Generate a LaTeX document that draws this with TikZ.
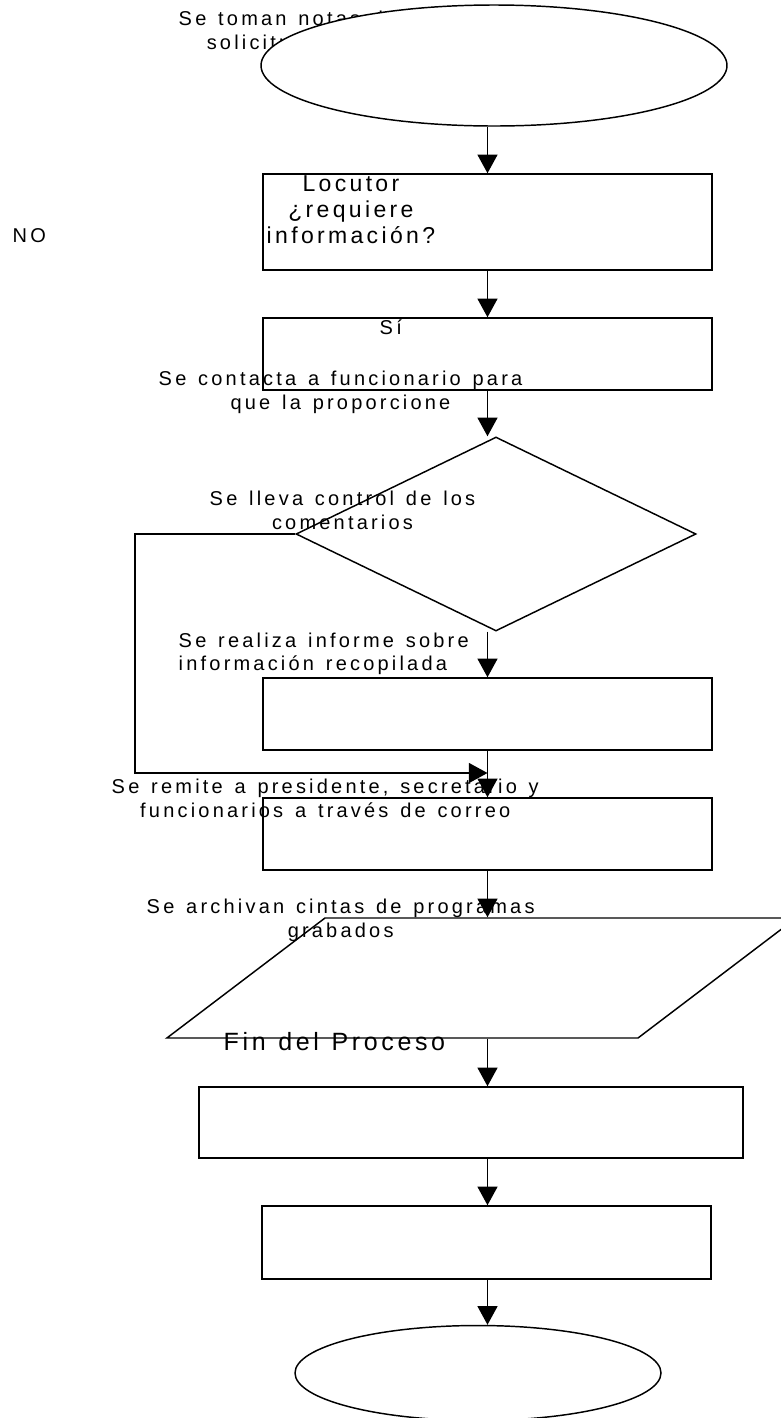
\documentclass[tikz,border=0pt]{standalone}
\usepackage{fontspec}
\setmainfont{Liberation Sans}[LetterSpace=16,WordSpace=1.35]
\newfontfamily\bigfont{Liberation Sans}[LetterSpace=14.5,WordSpace=1.2]
\usetikzlibrary{arrows.meta,shapes.geometric}
\tikzset{%
	startstop/.style = {draw, ellipse, inner sep=0pt},
	process/.style   = {draw, rectangle, inner sep=0pt, minimum width=336.75pt},
	decision/.style  = {draw, diamond, inner sep=0pt, minimum width=300pt, minimum height=145.5pt},
	inout/.style     = {draw, trapezium, trapezium left angle=37.2, trapezium right angle=142.8, inner sep=0pt},
	note/.style      = {inner sep=0pt, font=\fontsize{15}{17.6}\selectfont},
	bignote/.style   = {inner sep=0pt, font=\bigfont\fontsize{17.25}{19.5}\selectfont},
	arrow/.style     = {-{Triangle[width=15pt,length=14pt]}},
}

\begin{document}
\begin{tikzpicture}[x=0.75pt,y=-0.75pt,line width=1.1pt]
	\useasboundingbox (0,0) rectangle (781,1418);
	
	\node[note, anchor=north west, align=center] (lnotas) at (178,10.4) {Se toman notas de\\solicitudes de};
	\node[startstop, fill=white, minimum width=349.5pt, minimum height=90.75pt] (inicio) at (494,65.5) {};
	
	\node[process, minimum height=72pt] (locutor) at (487.5,222) {};
	\node[process, minimum height=54pt] (contacto) at (487.5,354) {};
	\node[decision] (control) at (496,534) {};
	\node[process, minimum height=54pt] (informe) at (487.5,714) {};
	\node[process, minimum height=54pt] (remite) at (487.5,834) {};
	\node[inout] (archivo) at (481.5,978) {\rule{234.75pt}{0pt}\rule{0pt}{90pt}};
	\node[process, minimum width=408pt, minimum height=53.25pt] (cierre) at (471,1122.5) {};
	\node[process, minimum height=54.75pt] (entrega) at (486.5,1242.5) {};
	\node[startstop, minimum width=274.5pt, minimum height=71.25pt] (fin) at (478,1373) {};
	
	\node[bignote, anchor=north west, align=center] (lpregunta) at (266,174.9) {Locutor\\¿requiere\\información?};
	\node[note, anchor=base west] (lno) at (12,242) {NO};
	\node[note, anchor=base west] (lsi) at (379,334) {Sí};
	\node[note, anchor=north west, align=center] (lcontacta) at (158,370.4) {Se contacta a funcionario para\\que la proporcione};
	\node[note, anchor=north west, align=center] (llleva) at (209,490.4) {Se lleva control de los\\comentarios};
	\node[note, anchor=north west, align=left] (lrealiza) at (178,632.1) {Se realiza informe sobre\\información recopilada};
	\node[note, anchor=north west, align=center] (lremite) at (111,778.4) {Se remite a presidente, secretario y\\funcionarios a través de correo};
	\node[note, anchor=north west, align=center] (larchiva) at (146,898.4) {Se archivan cintas de programas\\grabados};
	\node[inner sep=0pt, anchor=base west, font=\bigfont\fontsize{18.75}{21}\selectfont] (lfin) at (223,1050) {Fin del Proceso};
	
	\foreach \a/\b in {inicio/locutor,locutor/contacto,contacto/control,control/informe,informe/remite,remite/archivo,archivo/cierre,cierre/entrega,entrega/fin}
		\draw[arrow] (\a.south -| locutor) -- (\b.north -| locutor);
	
	\coordinate (vuelta) at (135,773);
	\coordinate (union) at (487.5,773);
	\draw[arrow] (control.west) -| (vuelta) -- (union);
\end{tikzpicture}
\end{document}
